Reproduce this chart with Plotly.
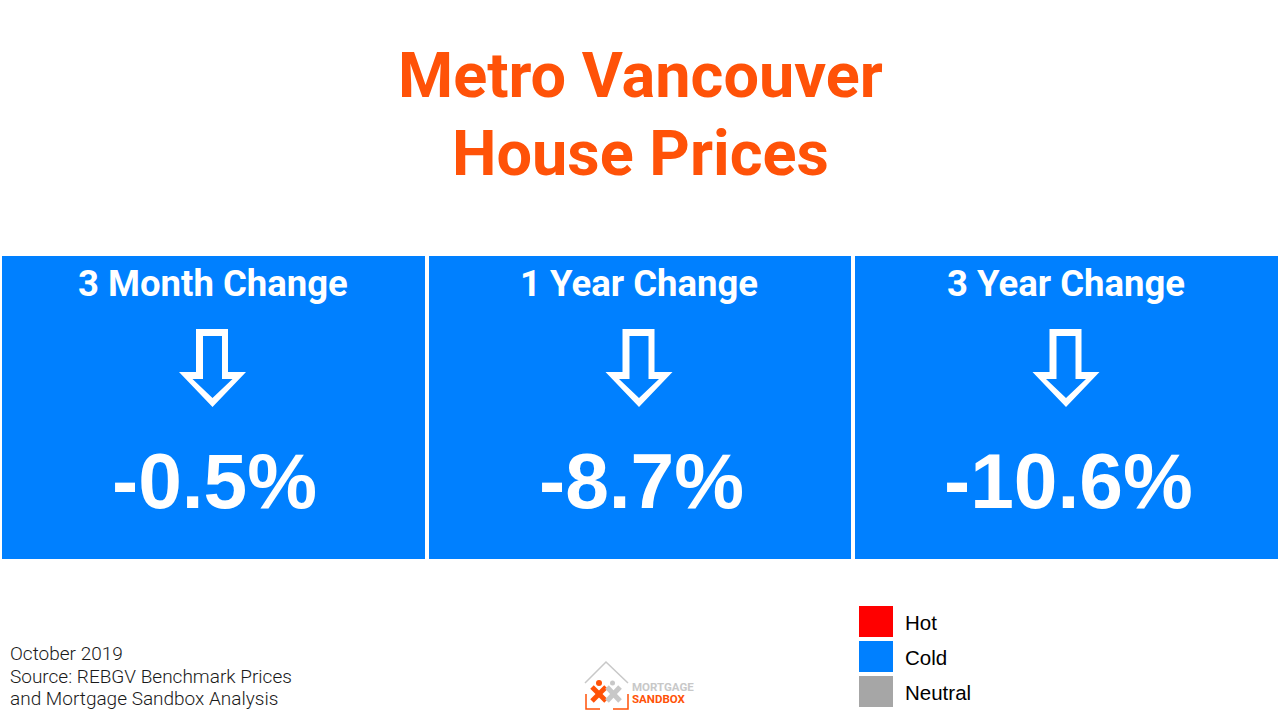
import plotly.graph_objects as go

title_lines = ["Metro Vancouver", "House Prices"]
periods = ["3 Month Change", "1 Year Change", "3 Year Change"]
changes = ["-0.5%", "-8.7%", "-10.6%"]
tile_left = [2, 429, 855]
tile_right = [425, 851, 1278]
arrow_x = [212.5, 639, 1066]
legend_names = ["Hot", "Cold", "Neutral"]
legend_colors = ["#ff0000", "#0080ff", "#a6a6a6"]
legend_y = [622, 657, 692]
footer_lines = ["October 2019", "Source: REBGV Benchmark Prices", "and Mortgage Sandbox Analysis"]
footer_y = [653, 676, 698.5]

ORANGE = "#ff5208"
BLUE = "#0080ff"
DIN = "Roboto"
ARIAL = "Liberation Sans"


def arrow_path(cx, inner=False):
    # down arrow, outer outline and the blue hole inside it
    if inner:
        pts = [(-9.5, 336), (9.5, 336), (9.5, 379), (20, 379), (0, 398), (-20, 379), (-9.5, 379)]
    else:
        pts = [(-16.5, 329), (15.5, 329), (15.5, 372), (33.5, 372), (0, 407), (-33.5, 372), (-16.5, 372)]
    return "M" + " L".join(f"{cx + dx},{y}" for dx, y in pts) + " Z"


shapes = []
annotations = []


def add_text(x, y, text, size, color, family, anchor="center", weight=400):
    annotations.append(dict(x=x, y=y, text=text, showarrow=False, xanchor=anchor, yanchor="middle",
                            font=dict(size=size, color=color, family=family, weight=weight)))


add_text(640, 75, title_lines[0], 63, ORANGE, DIN, weight=700)
add_text(640, 153, title_lines[1], 63, ORANGE, DIN, weight=700)

for i in range(len(periods)):
    shapes.append(dict(type="rect", x0=tile_left[i], x1=tile_right[i], y0=256, y1=559,
                       fillcolor=BLUE, line_width=0, layer="below"))
    shapes.append(dict(type="path", path=arrow_path(arrow_x[i]), fillcolor="white", line_width=0))
    shapes.append(dict(type="path", path=arrow_path(arrow_x[i], inner=True), fillcolor=BLUE, line_width=0))
    add_text(arrow_x[i], 283.5, periods[i], 36.5, "white", DIN, weight=700)
    add_text(arrow_x[i] + 2, 481, changes[i], 78.5, "white", ARIAL, weight=700)

for name, color, y in zip(legend_names, legend_colors, legend_y):
    shapes.append(dict(type="rect", x0=859, x1=893, y0=y - 16, y1=y + 15, fillcolor=color, line_width=0))
    add_text(903, y, name, 20.5, "black", ARIAL, anchor="left")

for line, y in zip(footer_lines, footer_y):
    add_text(8, y, line, 19, "#1a1a1a", DIN, anchor="left", weight=300)

# logo
GREY = "#c8c8c8"
shapes.append(dict(type="path", path="M585,683 L606,662 L628,683", line=dict(color=GREY, width=1.5)))
shapes.append(dict(type="path", path="M586,694 L586,709 L600,709", line=dict(color=ORANGE, width=1.5)))
shapes.append(dict(type="path", path="M628,694 L628,709 L613,709", line=dict(color=ORANGE, width=1.5)))
shapes.append(dict(type="line", x0=592, y0=687, x1=606, y1=701, line=dict(color=ORANGE, width=5)))
shapes.append(dict(type="line", x0=606, y0=687, x1=592, y1=701, line=dict(color=ORANGE, width=5)))
shapes.append(dict(type="line", x0=607, y0=687, x1=620, y1=701, line=dict(color=GREY, width=5)))
shapes.append(dict(type="line", x0=620, y0=687, x1=607, y1=701, line=dict(color=GREY, width=5)))
shapes.append(dict(type="circle", x0=596, y0=680, x1=602, y1=686, fillcolor=ORANGE, line_width=0))
shapes.append(dict(type="circle", x0=610, y0=680.5, x1=615, y1=685.5, fillcolor=GREY, line_width=0))
add_text(630, 687, "MORTGAGE", 11.5, GREY, DIN, anchor="left", weight=700)
add_text(630, 699, "SANDBOX", 11.5, ORANGE, DIN, anchor="left", weight=700)

fig = go.Figure()
fig.update_layout(
    width=1280,
    height=720,
    margin=dict(l=0, r=0, t=0, b=0),
    paper_bgcolor="white",
    plot_bgcolor="white",
    showlegend=False,
    shapes=shapes,
    annotations=annotations,
    xaxis=dict(range=[0, 1280], visible=False, fixedrange=True),
    yaxis=dict(range=[720, 0], visible=False, fixedrange=True),
)
# the page's default body margin would push the figure off by 8px
fig.write_html("out.html", config=dict(displayModeBar=False),
               post_script="document.body.style.margin='0';document.body.style.overflow='hidden';")
